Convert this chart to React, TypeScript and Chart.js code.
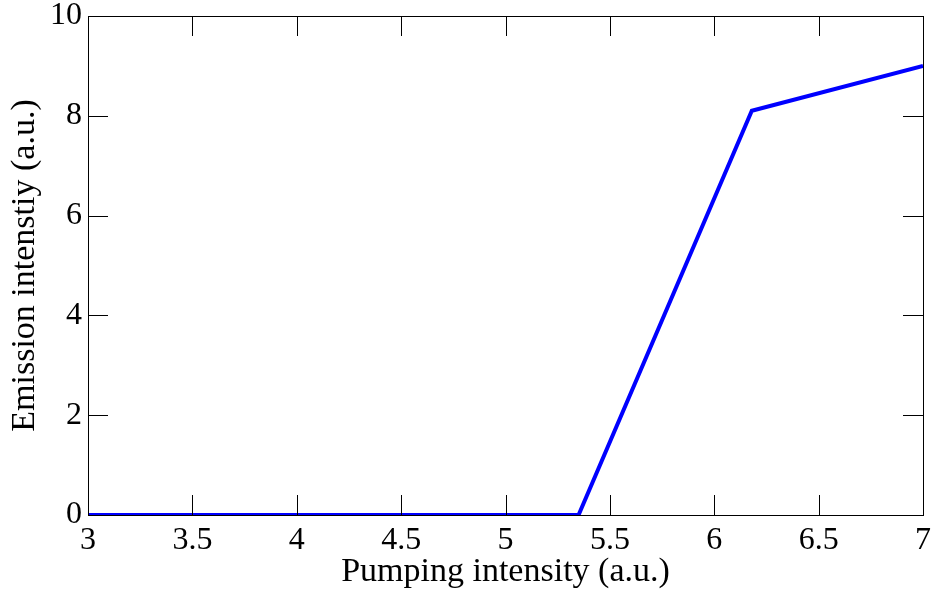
import React, { useEffect, useRef } from "react";
import { Chart, registerables } from "chart.js";

Chart.register(...registerables);

const xValues = [3, 5.35, 6.18, 7];
const yValues = [0, 0, 8.1, 9.0];
const xTicks = [3, 3.5, 4, 4.5, 5, 5.5, 6, 6.5, 7];
const yTicks = [0, 2, 4, 6, 8, 10];

const FONT = "'Liberation Serif', 'Times New Roman', serif";

const boxTicks = {
  id: "boxTicks",
  afterDraw(chart: any) {
    const { ctx, chartArea: a, scales } = chart;
    const len = 20;
    ctx.save();
    ctx.strokeStyle = "#000";
    ctx.lineWidth = 1;
    ctx.beginPath();
    for (const v of xTicks) {
      const px = Math.round(scales.x.getPixelForValue(v)) + 0.5;
      ctx.moveTo(px, a.bottom);
      ctx.lineTo(px, a.bottom - len);
      ctx.moveTo(px, a.top);
      ctx.lineTo(px, a.top + len);
    }
    for (const v of yTicks) {
      const py = Math.round(scales.y.getPixelForValue(v)) + 0.5;
      ctx.moveTo(a.left, py);
      ctx.lineTo(a.left + len, py);
      ctx.moveTo(a.right, py);
      ctx.lineTo(a.right - len, py);
    }
    ctx.stroke();
    ctx.strokeRect(Math.round(a.left) + 0.5, Math.round(a.top) + 0.5, Math.round(a.right - a.left), Math.round(a.bottom - a.top));
    ctx.restore();
  },
};

export default function App() {
  const ref = useRef<HTMLCanvasElement | null>(null);
  useEffect(() => {
    if (!ref.current) return;
    const chart = new Chart(ref.current, {
      type: "line",
      data: {
        datasets: [
          {
            data: xValues.map((x, i) => ({ x, y: yValues[i] })),
            borderColor: "#0000ff",
            borderWidth: 4,
            pointRadius: 0,
            tension: 0,
            fill: false,
          },
        ],
      },
      options: {
        animation: false,
        responsive: false,
        maintainAspectRatio: false,
        layout: { padding: { top: 16, right: 11, left: 0, bottom: 0 } },
        plugins: { legend: { display: false }, tooltip: { enabled: false } },
        scales: {
          x: {
            type: "linear",
            min: 3,
            max: 7,
            afterBuildTicks: (s: any) => {
              s.ticks = xTicks.map((v) => ({ value: v }));
            },
            afterFit: (s: any) => {
              s.height = 75;
              s.paddingLeft = 0;
              s.paddingRight = 0;
            },
            grid: { display: false, drawTicks: false },
            border: { display: true, color: "#000" },
            ticks: {
              color: "#000",
              font: { family: FONT, size: 32 },
              padding: 6,
              maxRotation: 0,
              autoSkip: false,
              callback: (v: any) => String(v),
            },
            title: {
              display: true,
              text: "Pumping intensity (a.u.)",
              color: "#000",
              font: { family: FONT, size: 34 },
              padding: { top: 0, bottom: -2 },
            },
          },
          y: {
            type: "linear",
            min: 0,
            max: 10,
            afterBuildTicks: (s: any) => {
              s.ticks = yTicks.map((v) => ({ value: v }));
            },
            afterFit: (s: any) => {
              s.width = 88;
              s.paddingTop = 0;
              s.paddingBottom = 0;
            },
            grid: { display: false, drawTicks: false },
            border: { display: true, color: "#000" },
            ticks: {
              color: "#000",
              font: { family: FONT, size: 32 },
              padding: 6,
              autoSkip: false,
              callback: (v: any) => String(v),
            },
            title: {
              display: true,
              text: "Emission intenstiy (a.u.)",
              color: "#000",
              font: { family: FONT, size: 34 },
              padding: { top: 5, bottom: 0 },
            },
          },
        },
      },
      plugins: [boxTicks],
    });
    return () => chart.destroy();
  }, []);
  return (
    <div style={{ position: "fixed", left: 0, top: 0, width: 934, height: 590, background: "#fff" }}>
      <canvas ref={ref} width={934} height={590} style={{ width: 934, height: 590 }} />
    </div>
  );
}
